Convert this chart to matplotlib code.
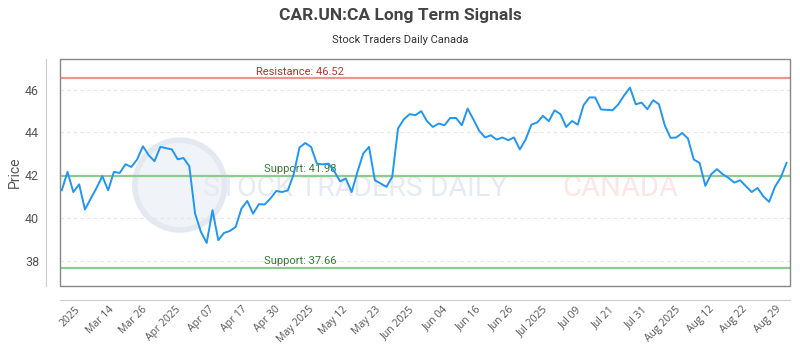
import numpy as np
import matplotlib.pyplot as plt
from matplotlib.patches import Rectangle, Ellipse

title = "CAR.UN:CA Long Term Signals"
subtitle = "Stock Traders Daily Canada"

prices = [
    41.29, 42.15, 41.21, 41.57, 40.39, 40.90, 41.40, 41.95, 41.29, 42.15,
    42.10, 42.51, 42.38, 42.73, 43.35, 42.93, 42.65, 43.32, 43.26, 43.20,
    42.74, 42.80, 42.42, 40.20, 39.35, 38.83, 40.36, 38.96, 39.30, 39.39,
    39.58, 40.44, 40.79, 40.20, 40.64, 40.63, 40.91, 41.26, 41.21, 41.29,
    42.04, 43.29, 43.50, 43.32, 42.54, 42.50, 42.54, 42.18, 41.71, 41.84,
    41.21, 42.15, 43.01, 43.32, 41.76, 41.61, 41.45, 41.92, 44.18, 44.61,
    44.85, 44.80, 44.99, 44.52, 44.25, 44.41, 44.33, 44.67, 44.67, 44.33,
    45.11, 44.60, 44.07, 43.76, 43.86, 43.66, 43.76, 43.63, 43.76, 43.20,
    43.66, 44.36, 44.46, 44.77, 44.52, 45.03, 44.85, 44.25, 44.53, 44.36,
    45.27, 45.63, 45.63, 45.07, 45.05, 45.03, 45.31, 45.73, 46.09, 45.31,
    45.39, 45.08, 45.50, 45.31, 44.33, 43.74, 43.76, 43.97, 43.71, 42.73,
    42.57, 41.50, 42.04, 42.28, 42.04, 41.87, 41.65, 41.76, 41.48, 41.21,
    41.40, 41.01, 40.75, 41.45, 41.89, 42.57,
]

tick_labels = [
    "2025", "Mar 14", "Mar 26", "Apr 2025", "Apr 07", "Apr 17", "Apr 30",
    "May 2025", "May 12", "May 23", "Jun 2025", "Jun 04", "Jun 16", "Jun 26",
    "Jul 2025", "Jul 09", "Jul 21", "Jul 31", "Aug 2025", "Aug 12", "Aug 22",
    "Aug 29",
]

resistance = 46.52
supports = [41.98, 37.66]

text_color = "#555555"
line_color = "#2196f3"


def main():
    fig = plt.figure(figsize=(8, 3.5), dpi=100)
    ax = fig.add_axes([0.075, 0.183, 0.9125, 0.648])

    x = np.arange(len(prices))
    ax.set_xlim(-0.3, 125.6)
    ax.set_ylim(36.82, 47.42)

    # watermark (logo circle + faint text)
    ax.add_patch(Ellipse((0.164, 0.445), 0.123, 0.396, transform=ax.transAxes,
                         facecolor="#f0f3f8", edgecolor="#e3e8f1", lw=4,
                         zorder=0))
    ax.text(0.404, 0.43, "STOCK TRADERS DAILY", transform=ax.transAxes,
            ha="center", va="center", fontsize=20.5, family="Roboto",
            color="#e6ebf3", zorder=0)
    ax.text(0.767, 0.43, "CANADA", transform=ax.transAxes, ha="center",
            va="center", fontsize=21, family="Roboto", color="#fce6e6",
            zorder=0)

    for v in range(38, 47, 2):
        ax.axhline(v, color="#e6e6e6", lw=0.8, ls=(0, (3, 3)), zorder=1)

    ax.axhline(resistance, color="#f0968f", lw=1.6, zorder=2)
    ax.text(0.329, resistance + 0.08, "Resistance: {:.2f}".format(resistance),
            transform=ax.get_yaxis_transform(), ha="center", va="bottom",
            fontsize=8, color="#b03a2e", family="Roboto")
    for s in supports:
        ax.axhline(s, color="#8fca8f", lw=1.6, zorder=2)
        ax.text(0.329, s + 0.08, "Support: {:.2f}".format(s),
                transform=ax.get_yaxis_transform(), ha="center", va="bottom",
                fontsize=8, color="#2e7d32", family="Roboto")

    ax.plot(x, prices, color=line_color, lw=1.4, zorder=3)

    # frame around plot area
    ax.add_patch(Rectangle((0, 0), 1, 1, transform=ax.transAxes, fill=False,
                           edgecolor="#888888", lw=1.0, clip_on=False, zorder=4))

    for side in ["top", "right"]:
        ax.spines[side].set_visible(False)
    for side in ["left", "bottom"]:
        ax.spines[side].set_position(("outward", 10))
        ax.spines[side].set_color("#cccccc")

    ax.set_yticks(range(38, 47, 2))
    ax.tick_params(axis="y", length=0, pad=5, labelsize=9, labelcolor=text_color)
    ax.set_xticks(np.linspace(3.6, 124.4, len(tick_labels)))
    ax.set_xticklabels(tick_labels, rotation=45, ha="right",
                       family="Open Sans", fontsize=7.5, color=text_color)
    ax.tick_params(axis="x", length=0, pad=3)
    for lbl in ax.get_yticklabels():
        lbl.set_family("Roboto")

    ax.set_ylabel("Price", fontsize=10, color=text_color, family="Roboto")
    ax.yaxis.set_label_coords(-0.052, 0.5)

    fig.text(0.5, 0.955, title, ha="center", va="center", fontsize=12.5,
             fontweight="bold", family="Roboto", color="#444444")
    fig.text(0.5, 0.885, subtitle, ha="center", va="center", fontsize=8,
             family="Roboto", color="#333333")

    fig.savefig("out.png", dpi=100)


if __name__ == "__main__":
    main()
